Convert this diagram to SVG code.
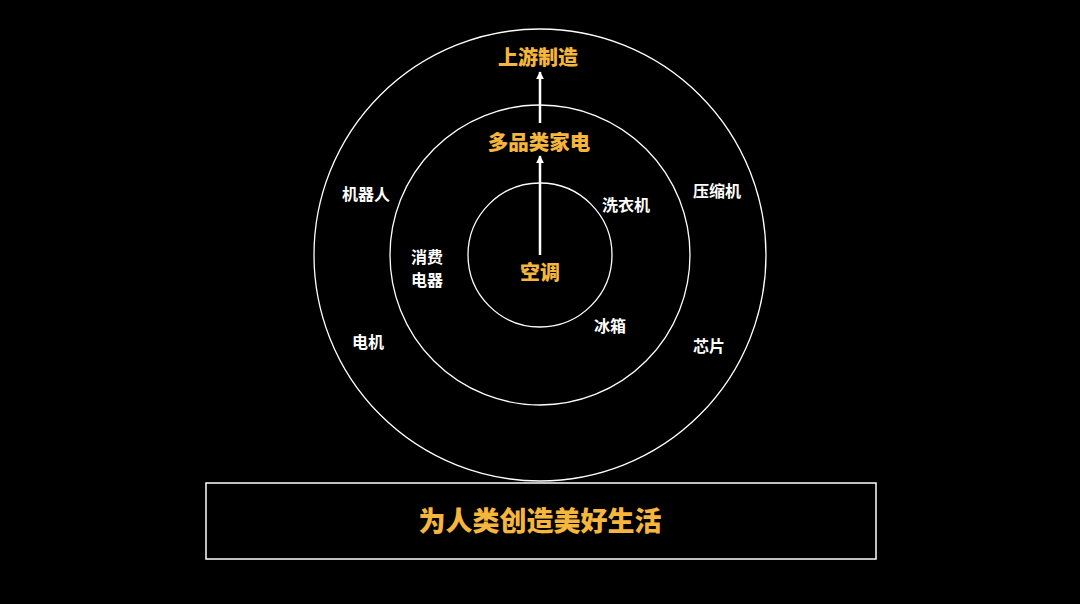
<svg xmlns="http://www.w3.org/2000/svg" width="1080" height="604" viewBox="0 0 1080 604">
<defs>
<style>
.ring{fill:none;stroke:#ffffff;stroke-width:1.3}
.y{fill:#F4B63C;font-family:"Noto Sans CJK SC","Noto Sans",sans-serif;font-weight:900;text-anchor:middle}
.w{fill:#ffffff;font-family:"Noto Sans CJK SC","Noto Sans",sans-serif;font-weight:bold;font-size:16px;text-anchor:middle}
.arr{stroke:#ffffff;stroke-width:2.5;fill:none;marker-end:url(#ah)}
</style>
<marker id="ah" viewBox="0 0 10 10" refX="9" refY="5" markerWidth="3.2" markerHeight="3.2" orient="auto" markerUnits="strokeWidth">
<path d="M0,0 L10,5 L0,10 z" fill="#ffffff"/>
</marker>
</defs>
<rect width="1080" height="604" fill="#000000"/>
<g id="rings">
<circle id="outer-ring" class="ring" cx="540" cy="255" r="226"/>
<circle id="middle-ring" class="ring" cx="540" cy="255" r="150"/>
<circle id="inner-ring" class="ring" cx="540" cy="255" r="72"/>
</g>
<g id="connectors">
<line class="arr" x1="540" y1="255" x2="540" y2="156"/>
<line class="arr" x1="540" y1="123" x2="540" y2="72"/>
</g>
<g id="node-upstream"><text class="y" x="538" y="65" font-size="20">上游制造</text></g>
<g id="node-multi"><text class="y" x="539" y="150" font-size="20.5">多品类家电</text></g>
<g id="node-ac"><text class="y" x="540" y="280" font-size="20">空调</text></g>
<g id="node-washer"><text class="w" x="626" y="211">洗衣机</text></g>
<g id="node-fridge"><text class="w" x="610" y="332">冰箱</text></g>
<g id="node-consumer"><text class="w" x="427" y="263" font-size="15.5"><tspan x="427">消费</tspan><tspan x="427" dy="22.5">电器</tspan></text></g>
<g id="node-robot"><text class="w" x="366" y="200">机器人</text></g>
<g id="node-motor"><text class="w" x="368" y="348">电机</text></g>
<g id="node-compressor"><text class="w" x="717" y="197">压缩机</text></g>
<g id="node-chip"><text class="w" x="709" y="352">芯片</text></g>
<g id="node-mission">
<rect x="206" y="483" width="670" height="76" fill="none" stroke="#ffffff" stroke-width="1.5"/>
<text class="y" x="540" y="531" font-size="27">为人类创造美好生活</text>
</g>
</svg>
